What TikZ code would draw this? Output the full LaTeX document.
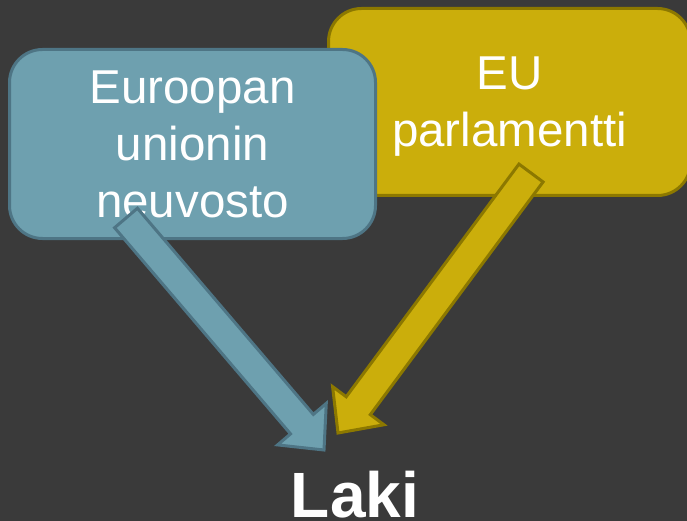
\documentclass[tikz,border=0pt]{standalone}
\usepackage{fontspec}
\setmainfont{Liberation Sans}
\usetikzlibrary{calc}

\definecolor{tausta}{HTML}{3A3A3A}
\definecolor{sininen}{HTML}{6EA0AF}
\definecolor{sininenreuna}{HTML}{4E7585}
\definecolor{keltainen}{HTML}{CBAE0B}
\definecolor{keltainenreuna}{HTML}{8C7800}

\begin{document}
\begin{tikzpicture}[x=1pt,y=-1pt]

\tikzset{mybox/.style={rectangle,rounded corners=33pt,minimum width=366pt,minimum height=189pt,line width=3pt,draw=sininenreuna,fill=sininen,text=white,align=center,font=\fontsize{47.5}{57}\selectfont},}
\tikzset{mybox2/.style={mybox,minimum width=362pt,minimum height=187pt,text depth=0pt,draw=keltainenreuna,fill=keltainen},}
\tikzset{nuoli/.style={line width=3pt,line join=miter,to path={
  ($(\tikztotarget)!34pt!(\tikztostart)$) coordinate (kanta)
  ($(\tikztostart)!15pt!90:(\tikztotarget)$)
  -- ($(kanta)!15pt!90:(\tikztotarget)$)
  -- ($(kanta)!32pt!90:(\tikztotarget)$)
  -- (\tikztotarget)
  -- ($(kanta)!32pt!-90:(\tikztotarget)$)
  -- ($(kanta)!15pt!-90:(\tikztotarget)$)
  -- ($(\tikztostart)!15pt!-90:(\tikztotarget)$)
  -- cycle}},}
\tikzset{mylabel/.style={anchor=base,inner sep=0pt,text=white,font=\fontsize{64}{70}\selectfont\bfseries},}

%TAUSTA
\fill[tausta] (0,0) rectangle (687,521);
\useasboundingbox (0,0) rectangle (687,521);

%LAATIKOT
\draw (509.5,102) node [mybox2] (parlamentti) {EU\\parlamentti};
\draw (192.5,144) node [mybox] (neuvosto) {Euroopan\\unionin\\neuvosto};

%NUOLET
\coordinate (nalku) at (126,218);
\coordinate (nloppu) at (324,450);
\coordinate (palku) at (531,173);
\coordinate (ploppu) at (338,433);

\draw[nuoli,draw=sininenreuna,fill=sininen] (nalku) to (nloppu);
\draw[nuoli,draw=keltainenreuna,fill=keltainen] (palku) to (ploppu);

%LAKI
\draw (355,517) node [mylabel] (laki) {Laki};

\end{tikzpicture}
\end{document}
